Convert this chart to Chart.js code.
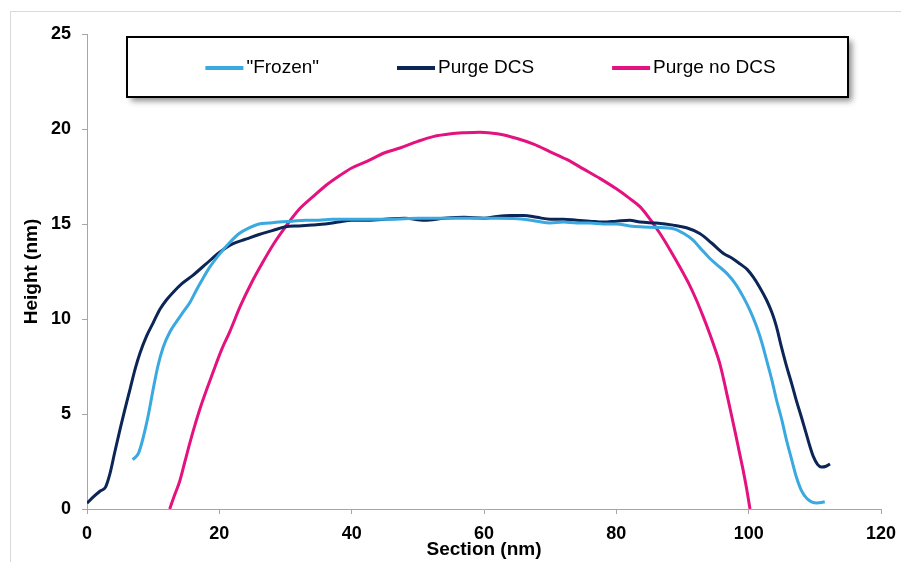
<!DOCTYPE html>
<html>
<head>
<meta charset="utf-8">
<script src="https://cdn.jsdelivr.net/npm/chart.js@4.4.1/dist/chart.umd.min.js"></script>
<style>
  body { margin: 0; background: #fff; overflow: hidden; }
  #frame { position: absolute; left: 10px; top: 11px; width: 1000px; height: 700px; border-left: 1px solid #d9d9d9; border-top: 1px solid #d9d9d9; }
  #wrap { position: absolute; left: 0; top: 0; width: 901px; height: 562px; }
</style>
</head>
<body>
<div id="frame"></div>
<div id="wrap"><canvas id="heightChart" width="901" height="562"></canvas></div>
<script>
// series labels
const seriesNames = ['"Frozen"', 'Purge DCS', 'Purge no DCS'];
const seriesColors = ['#3aa9e0', '#0c2557', '#e4127f'];

// "Frozen"
const frozenX = [6.9, 7.4, 7.8, 8.3, 8.8, 9.3, 10, 10.7, 11.5, 12.5, 13.6, 14.6, 15.6, 16.5, 17.3, 18.5, 20, 21.5, 23, 24.5, 26, 27.5, 29, 31, 33, 35, 37, 40, 43, 46, 50, 54, 58, 62, 66, 68, 70, 72, 74, 76, 78, 80, 82, 83.6, 86, 88.6, 90.2, 91.6, 92.9, 94.1, 95.4, 96.7, 98, 99.2, 100.2, 101.2, 102, 102.7, 103.5, 104.2, 105, 105.7, 106.5, 107.2, 108, 108.8, 109.5, 110.3, 111, 111.5];
const frozenY = [2.6, 2.75, 2.95, 3.5, 4.2, 5.0, 6.3, 7.5, 8.5, 9.3, 9.9, 10.4, 10.9, 11.5, 12.0, 12.7, 13.4, 14.0, 14.5, 14.8, 15.0, 15.05, 15.1, 15.15, 15.2, 15.2, 15.25, 15.25, 15.25, 15.25, 15.3, 15.3, 15.3, 15.3, 15.25, 15.15, 15.05, 15.1, 15.05, 15.05, 15.0, 15.0, 14.9, 14.85, 14.82, 14.75, 14.5, 14.15, 13.65, 13.2, 12.8, 12.4, 11.85, 11.15, 10.45, 9.6, 8.75, 7.85, 6.8, 5.75, 4.7, 3.65, 2.6, 1.7, 0.95, 0.55, 0.38, 0.32, 0.34, 0.38];

// Purge DCS
const purgeX = [0, 1, 2, 2.8, 3.5, 4.2, 5, 5.7, 6.5, 7.3, 8, 9, 10, 11, 12, 13, 14.3, 16, 18, 20, 22, 24, 26, 28, 30, 32, 34, 36, 38, 40, 42, 45, 48, 51, 54, 57, 60, 62, 64, 66, 68, 70, 72, 74, 76, 78, 80, 82, 83.6, 86, 88.6, 90.6, 92.6, 94.4, 96.2, 97.5, 98.7, 99.8, 100.7, 101.7, 102.7, 103.5, 104.2, 104.9, 105.7, 106.5, 107.2, 108, 108.7, 109.3, 109.8, 110.4, 111, 111.7, 112.3];
const purgeY = [0.3, 0.65, 0.95, 1.15, 1.9, 3.0, 4.2, 5.2, 6.3, 7.4, 8.2, 9.1, 9.8, 10.5, 11.0, 11.4, 11.85, 12.3, 12.9, 13.5, 13.95, 14.2, 14.45, 14.65, 14.85, 14.9, 14.95, 15.0, 15.1, 15.2, 15.2, 15.25, 15.3, 15.2, 15.3, 15.35, 15.3, 15.4, 15.45, 15.45, 15.35, 15.25, 15.25, 15.2, 15.15, 15.1, 15.15, 15.2, 15.1, 15.05, 14.94, 14.8, 14.5, 14.0, 13.45, 13.2, 12.9, 12.6, 12.2, 11.65, 11.0, 10.35, 9.6, 8.6, 7.55, 6.6, 5.72, 4.8, 3.97, 3.25, 2.74, 2.35, 2.21, 2.25, 2.37];

// Purge no DCS
const noDcsX = [12.5, 13.2, 14, 14.8, 15.6, 16.3, 17.1, 18.1, 19.1, 20.3, 21.6, 23.2, 25, 26.5, 28.2, 30, 32, 34.2, 36, 38.2, 40, 42.3, 45, 47.3, 50, 52.3, 55, 57, 59.4, 62, 65, 67.5, 70, 72.5, 75, 77.5, 80, 81.8, 83.6, 85.1, 86.6, 88.1, 89.6, 90.9, 92.1, 93.1, 94.1, 94.9, 95.6, 96.2, 96.8, 97.4, 98, 98.6, 99.2, 99.7, 100.2];
const noDcsY = [0, 0.7, 1.45, 2.5, 3.55, 4.4, 5.3, 6.3, 7.25, 8.35, 9.35, 10.7, 12.0, 12.95, 13.95, 14.85, 15.75, 16.45, 17.0, 17.55, 17.95, 18.3, 18.75, 19.0, 19.35, 19.6, 19.75, 19.8, 19.83, 19.75, 19.5, 19.2, 18.8, 18.4, 17.9, 17.4, 16.85, 16.4, 15.9, 15.25, 14.5, 13.65, 12.74, 11.9, 11.0, 10.15, 9.24, 8.45, 7.7, 6.85, 5.9, 4.95, 3.98, 2.98, 1.98, 1.05, 0];

// axes
const xTicks = [0, 20, 40, 60, 80, 100, 120];
const yTicks = [0, 5, 10, 15, 20, 25];

function toPoints(xs, ys) {
    return xs.map((x, i) => ({ x: x, y: ys[i] }));
}

// boxed legend inside the plot, drawn from the datasets
const boxLegend = {
    id: 'boxLegend',
    afterDraw(chart) {
        const ctx = chart.ctx;
        const bx = 127, by = 37, bw = 721, bh = 60;
        ctx.save();
        ctx.shadowColor = 'rgba(0,0,0,0.45)';
        ctx.shadowBlur = 6;
        ctx.shadowOffsetX = 4;
        ctx.shadowOffsetY = 4;
        ctx.fillStyle = '#fff';
        ctx.fillRect(bx, by, bw, bh);
        ctx.restore();

        ctx.save();
        ctx.strokeStyle = '#000';
        ctx.lineWidth = 2;
        ctx.strokeRect(bx, by, bw, bh);

        ctx.font = '19px "Liberation Sans", Arial, sans-serif';
        ctx.textBaseline = 'middle';
        const lineLen = 38, gapText = 3, gapItem = 78;
        const items = chart.data.datasets.map(ds => ({
            label: ds.label, color: ds.borderColor, w: lineLen + gapText + ctx.measureText(ds.label).width
        }));
        let total = items.reduce((s, it) => s + it.w, 0) + gapItem * (items.length - 1);
        let x = bx + bw / 2 - total / 2 + 3;
        const cy = by + bh / 2 + 1;
        items.forEach(it => {
            ctx.strokeStyle = it.color;
            ctx.lineWidth = 4;
            ctx.beginPath();
            ctx.moveTo(x, cy);
            ctx.lineTo(x + lineLen, cy);
            ctx.stroke();
            ctx.fillStyle = '#000';
            ctx.fillText(it.label, x + lineLen + gapText, cy);
            x += it.w + gapItem;
        });
        ctx.restore();
    }
};

const allX = [frozenX, purgeX, noDcsX];
const allY = [frozenY, purgeY, noDcsY];

new Chart(document.getElementById('heightChart'), {
    type: 'line',
    data: {
        datasets: seriesNames.map((name, i) => ({
            label: name,
            data: toPoints(allX[i], allY[i]),
            borderColor: seriesColors[i],
            borderWidth: 3,
            pointRadius: 0,
            fill: false,
            cubicInterpolationMode: 'monotone'
        }))
    },
    options: {
        responsive: false,
        animation: false,
        layout: { padding: { top: 34, right: 20, left: 0, bottom: 0 } },
        plugins: {
            legend: { display: false },
            tooltip: { enabled: false }
        },
        scales: {
            x: {
                type: 'linear',
                min: 0,
                max: 120,
                afterBuildTicks: s => { s.ticks = xTicks.map(v => ({ value: v })); },
                afterFit: s => { s.height = 53; s.paddingRight = 0; s.paddingLeft = 0; },
                ticks: { padding: 9, color: '#000', font: { family: '"Liberation Sans", Arial', size: 18, weight: 'bold' } },
                grid: { drawOnChartArea: false, drawTicks: true, tickLength: 5, color: '#a6a6a6' },
                border: { color: '#a6a6a6', width: 1 },
                title: {
                    display: true,
                    text: 'Section (nm)',
                    color: '#000',
                    padding: { top: 0, bottom: 1 },
                    font: { family: '"Liberation Sans", Arial', size: 19, weight: 'bold' }
                }
            },
            y: {
                min: 0,
                max: 25,
                afterBuildTicks: s => { s.ticks = yTicks.map(v => ({ value: v })); },
                afterFit: s => { s.width = 87; },
                ticks: { padding: 11, color: '#000', font: { family: '"Liberation Sans", Arial', size: 18, weight: 'bold' } },
                grid: { drawOnChartArea: false, drawTicks: true, tickLength: 5, color: '#a6a6a6' },
                border: { color: '#a6a6a6', width: 1 },
                title: {
                    display: true,
                    text: 'Height (nm)',
                    color: '#000',
                    padding: { top: 20, bottom: 0 },
                    font: { family: '"Liberation Sans", Arial', size: 19, weight: 'bold' }
                }
            }
        }
    },
    plugins: [boxLegend]
});
</script>
</body>
</html>
